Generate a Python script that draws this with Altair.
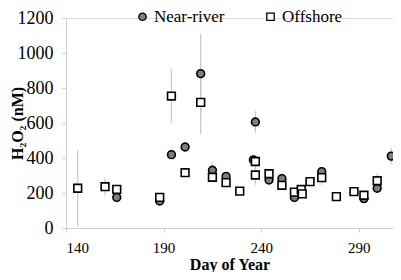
import altair as alt
import pandas as pd

# Near-river (filled grey circles)
nr_day = [166, 188, 194, 201, 209, 215, 222, 236, 237, 244, 250.6, 257, 271, 292.6, 299.4, 306.6]
nr_val = [175, 154, 419, 463, 882, 330, 295, 389, 606, 274, 282, 175, 322, 168, 227, 411]
nr_err = [0, 0, 0, 0, 221, 40, 0, 0, 55, 0, 0, 0, 0, 0, 0, 40]

# Offshore (open squares)
off_day = [146, 160, 166, 188, 194, 201, 209, 215, 222, 229, 237, 237, 244, 250.6, 257, 260.5, 261, 265, 271, 278.5, 287.5, 292.6, 299.4]
off_val = [227, 236, 221, 175, 754, 316, 718, 290, 259, 211, 380, 303, 310, 244, 205, 220, 195, 265, 288, 179, 208, 187, 270]
off_err = [210, 43, 0, 0, 145, 0, 175, 0, 0, 0, 0, 50, 0, 0, 0, 0, 0, 0, 35, 0, 0, 0, 35]

x_ticks = [140, 190, 240, 290]
y_ticks = [0, 200, 400, 600, 800, 1000, 1200]
series_names = ["Near-river", "Offshore"]

rows = []
for d, v, e in zip(nr_day, nr_val, nr_err):
    rows.append({"day": d, "val": v, "err": e, "series": "Near-river"})
for d, v, e in zip(off_day, off_val, off_err):
    rows.append({"day": d, "val": v, "err": e, "series": "Offshore"})
df = pd.DataFrame(rows)
df["lo"] = df["val"] - df["err"]
df["hi"] = df["val"] + df["err"]

FONT = "Liberation Serif"

x_scale = alt.Scale(domain=[140, 307.5], nice=False, zero=False)
y_scale = alt.Scale(domain=[0, 1200], nice=False)

x_axis = alt.Axis(values=x_ticks, title="Day of Year", format="d",
                  grid=False, domainColor="#d0d0d0", tickColor="#d0d0d0",
                  tickSize=4, labelPadding=8, labelFont=FONT, labelFontSize=15,
                  labelColor="black", labelOverlap=False,
                  titleFont=FONT, titleFontSize=16,
                  titleFontWeight="bold", titleColor="black",
                  titleY=36, titleBaseline="middle")
y_axis = alt.Axis(values=y_ticks, title="H₂O₂ (nM)", format="d",
                  grid=False, domainColor="#d0d0d0", tickColor="#d0d0d0",
                  tickSize=4, labelPadding=9, labelFont=FONT, labelFontSize=18,
                  labelColor="black", labelOverlap=False,
                  titleFont=FONT, titleFontSize=16,
                  titleFontWeight="bold", titleColor="black",
                  titleX=-49, titleY=105, titleAlign="center", titleBaseline="middle",
                  titleAngle=270)

X = alt.X("day:Q", scale=x_scale, axis=x_axis)

base = alt.Chart(df)
eb = base.transform_filter("datum.err > 0")

err = eb.mark_rule(color="#c8c8c8", strokeWidth=1.2).encode(
    x=X,
    y=alt.Y("lo:Q", scale=y_scale, axis=y_axis),
    y2="hi:Q",
)
cap_lo = eb.mark_tick(color="#c8c8c8", size=4, thickness=1).encode(
    x=X, y=alt.Y("lo:Q", scale=y_scale, axis=y_axis))
cap_hi = eb.mark_tick(color="#c8c8c8", size=4, thickness=1).encode(
    x=X, y=alt.Y("hi:Q", scale=y_scale, axis=y_axis))

leg = alt.Legend(title=None, orient="none", direction="horizontal",
                 legendX=68, legendY=-10, labelFont=FONT, labelFontSize=17,
                 labelColor="black", symbolSize=55,
                 symbolStrokeWidth=1.3, columnPadding=37, labelOffset=3)

pts = base.mark_point(filled=False, strokeWidth=1.6, opacity=1).encode(
    x=X,
    y=alt.Y("val:Q", scale=y_scale, axis=y_axis),
    shape=alt.Shape("series:N", scale=alt.Scale(domain=series_names, range=["circle", "square"]),
                    legend=leg),
    fill=alt.Fill("series:N", scale=alt.Scale(domain=series_names, range=["#7f7f7f", "white"]),
                  legend=leg),
    stroke=alt.Stroke("series:N", scale=alt.Scale(domain=series_names, range=["black", "black"]),
                      legend=leg),
    size=alt.value(60),
)

chart = alt.layer(err, cap_lo, cap_hi, pts).properties(
    width=327, height=210,
    autosize=alt.AutoSizeParams(type="none"),
    padding={"left": 58, "top": 10, "right": 0, "bottom": 44},
).configure_view(stroke=None).configure(background="white")

chart.save("out.html", embed_options={"renderer": "svg", "actions": False})
